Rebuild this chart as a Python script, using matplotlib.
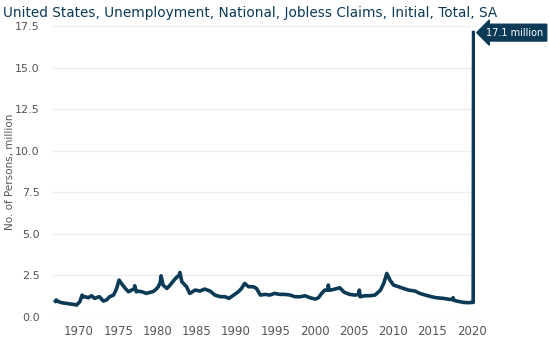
import matplotlib
matplotlib.use("Agg")
from matplotlib import pyplot as plt

# monthly initial claims, million (decimal year, value)
years = [
    1967.0, 1967.1, 1967.4, 1967.8, 1968.4, 1968.9, 1969.3, 1969.7, 1970.1, 1970.4,
    1970.6, 1970.8, 1971.2, 1971.6, 1972.0, 1972.3, 1972.6, 1973.1, 1973.5, 1973.9,
    1974.4, 1974.8, 1975.1, 1975.4, 1975.9, 1976.3, 1976.7, 1977.05, 1977.1, 1977.3,
    1977.6, 1978.0, 1978.6, 1979.0, 1979.4, 1979.7, 1980.1, 1980.35, 1980.45, 1980.7,
    1981.2, 1981.6, 1982.1, 1982.5, 1982.75, 1982.85, 1983.1, 1983.3, 1983.7, 1984.1,
    1984.8, 1985.4, 1986.0, 1986.7, 1987.3, 1988.0, 1988.6, 1989.1, 1989.7, 1990.3,
    1990.7, 1991.1, 1991.6, 1992.2, 1992.6, 1993.1, 1993.7, 1994.3, 1994.9, 1995.6,
    1996.2, 1996.9, 1997.5, 1998.2, 1998.8, 1999.4, 2000.1, 2000.5, 2000.9, 2001.3,
    2001.7, 2001.75, 2001.85, 2002.05, 2002.6, 2003.2, 2003.8, 2004.5, 2005.1, 2005.6,
    2005.7, 2005.8, 2006.4, 2007.1, 2007.7, 2008.4, 2008.8, 2009.2, 2009.6, 2010.05,
    2010.7, 2011.3, 2011.95, 2012.8, 2013.4, 2014.1, 2014.9, 2015.5, 2016.4, 2017.2,
    2017.6, 2017.65, 2017.75, 2018.1, 2018.95, 2019.6, 2020.1, 2020.2, 2020.25,
]
claims = [
    0.95, 1.02, 0.92, 0.86, 0.82, 0.78, 0.76, 0.72, 0.92, 1.32,
    1.20, 1.22, 1.16, 1.28, 1.12, 1.18, 1.22, 0.96, 1.02, 1.22,
    1.32, 1.72, 2.22, 2.02, 1.72, 1.52, 1.62, 1.70, 1.88, 1.52,
    1.55, 1.52, 1.42, 1.48, 1.52, 1.62, 1.82, 2.10, 2.48, 1.92,
    1.72, 1.92, 2.22, 2.42, 2.50, 2.68, 2.12, 2.02, 1.82, 1.42,
    1.62, 1.56, 1.68, 1.56, 1.32, 1.22, 1.22, 1.12, 1.32, 1.52,
    1.72, 2.02, 1.82, 1.82, 1.72, 1.32, 1.36, 1.32, 1.42, 1.36,
    1.36, 1.32, 1.22, 1.22, 1.28, 1.16, 1.08, 1.16, 1.42, 1.62,
    1.62, 1.92, 1.62, 1.62, 1.68, 1.76, 1.48, 1.36, 1.32, 1.35,
    1.62, 1.22, 1.28, 1.28, 1.32, 1.62, 2.02, 2.62, 2.22, 1.92,
    1.82, 1.72, 1.62, 1.56, 1.42, 1.32, 1.22, 1.16, 1.12, 1.06,
    1.05, 1.16, 1.00, 0.96, 0.88, 0.86, 0.88, 0.88, 17.1,
]
last_label = "17.1 million"
title = "United States, Unemployment, National, Jobless Claims, Initial, Total, SA"

navy = "#0b3a57"
grey = "#555555"

fig = plt.figure(figsize=(5.5, 3.4), dpi=100)
ax = fig.add_axes([0.0945, 0.0676, 0.769, 0.856])

ax.plot(years, claims, color=navy, lw=2.6, solid_joinstyle="round")

ax.set_xlim(1966.56, 2020.42)
ax.set_ylim(0, 17.5)
ax.set_xticks(range(1970, 2021, 5))
ax.set_yticks([0, 2.5, 5, 7.5, 10, 12.5, 15, 17.5])
ax.yaxis.set_major_formatter(matplotlib.ticker.FormatStrFormatter("%.1f"))
ax.grid(axis="y", color="#eeeeee", lw=1)
ax.set_axisbelow(True)
for s in ax.spines.values():
    s.set_visible(False)
ax.tick_params(length=0, labelsize=8.5, colors=grey, pad=6)
ax.tick_params(axis="y", labelsize=8, pad=9)
ax.set_ylabel("No. of Persons, million", fontsize=7.5, color=grey)
ax.yaxis.set_label_coords(-0.088, 0.5)

# value box next to the last point
ax.annotate(last_label, xy=(years[-1], claims[-1]), xytext=(9, 0),
            textcoords="offset points", va="center", ha="left",
            fontsize=7, color="white", annotation_clip=False,
            bbox=dict(boxstyle="larrow,pad=0.35", fc=navy, ec=navy))

# title squeezed to the width of the chart area
t = fig.text(0.005, 0.962, title, fontsize=12, color=navy, va="center", ha="left")
fig.canvas.draw()
w = t.get_window_extent().width
t.set_fontsize(12 * 489 / w)

fig.savefig("out.png", dpi=100)
